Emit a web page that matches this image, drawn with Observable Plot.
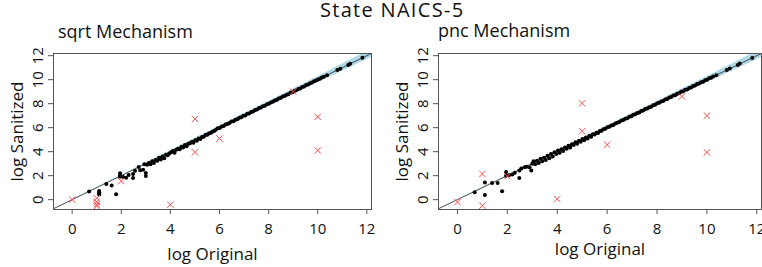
<!DOCTYPE html>
<html><head><meta charset="utf-8">
<script src="https://cdn.jsdelivr.net/npm/d3@7"></script>
<script src="https://cdn.jsdelivr.net/npm/@observablehq/plot@0.6"></script>
<style>
body{margin:0;background:#fff;font-family:"Open Sans",sans-serif;}
#wrap{position:relative;width:762px;height:267px;overflow:hidden;background:#fff;}
.ttl{position:absolute;font-size:20px;line-height:20px;letter-spacing:1.3px;color:#111;white-space:nowrap;}
.sub{position:absolute;font-size:18px;line-height:18px;color:#111;white-space:nowrap;}
.pl{position:absolute;top:40px;}
</style></head>
<body>
<div id="wrap">
  <div class="ttl" id="title" style="left:320px;top:0px;"></div>
  <div class="sub" id="sub0" style="left:58px;top:22px;"></div>
  <div class="sub" id="sub1" style="left:438px;top:21px;"></div>
  <div class="pl" id="p0" style="left:0px;"></div>
  <div class="pl" id="p1" style="left:381px;"></div>
</div>
<script>
const title = "State NAICS-5";
const panelTitles = ["sqrt Mechanism", "pnc Mechanism"];
const xLabel = "log Original";
const yLabel = "log Sanitized";
const xTicks = [0, 2, 4, 6, 8, 10, 12];
const yTicks = [0, 2, 4, 6, 8, 10, 12];

// shared log original values of the main cloud
const midX = [3.05,3.12,3.19,3.26,3.33,3.40,3.47,3.54,3.61,3.68,3.75,3.82,3.89,3.96,4.03,4.10,4.17,4.24,4.31,4.38,
  4.45,4.52,4.59,4.66,4.73,4.80,4.87,4.94,5.01,5.08,5.15,5.22,5.29,5.36,5.43,5.50,5.57,5.64,5.71,5.78,
  5.85,5.93,6.01,6.09,6.17,6.25,6.33,6.41,6.49,6.57,6.65,6.73,6.81,6.89,6.97,7.05,7.13,7.21,7.29,7.37,
  7.45,7.53,7.61,7.69,7.77,7.85,7.93,8.01,8.09,8.17,8.25,8.33,8.41,8.49,8.57,8.65,8.73,8.81,8.89,8.97,
  9.05,9.13,9.21,9.29,9.37,9.45,9.53,9.61,9.69,9.77,9.85,9.93,10.01,10.09,10.17,10.25,
  10.38,10.80,10.92,11.24,11.32,11.82];
const sqrtMidY = [2.90,3.05,2.95,3.20,3.05,3.30,3.25,3.50,3.35,3.60,3.45,3.75,3.70,3.85,3.95,4.05,3.90,4.15,4.25,4.20,
  4.40,4.35,4.55,4.45,4.65,4.70,4.80,4.75,4.95,4.90,5.10,5.05,5.22,5.25,5.38,5.40,5.52,5.55,5.66,5.72,
  5.82,5.95,5.97,6.10,6.13,6.27,6.30,6.39,6.52,6.54,6.66,6.70,6.83,6.86,6.99,7.02,7.15,7.19,7.30,7.35,
  7.47,7.51,7.63,7.67,7.78,7.83,7.95,7.99,8.10,8.15,8.27,8.31,8.42,8.47,8.59,8.63,8.74,8.79,8.91,8.95,
  9.06,9.11,9.23,9.27,9.38,9.44,9.55,9.59,9.70,9.76,9.86,9.92,10.02,10.08,10.18,10.24,
  10.37,10.81,10.91,11.23,11.33,11.82];
const pncMidY = [3.20,2.95,3.25,3.05,3.40,3.20,3.50,3.30,3.65,3.45,3.80,3.60,3.95,3.80,4.10,3.90,4.20,4.05,4.35,4.25,
  4.50,4.35,4.62,4.55,4.78,4.65,4.90,4.82,5.05,4.95,5.18,5.10,5.32,5.25,5.45,5.42,5.58,5.56,5.72,5.74,
  5.86,5.91,6.03,6.07,6.19,6.23,6.35,6.40,6.47,6.59,6.63,6.75,6.79,6.91,6.95,7.07,7.11,7.23,7.27,7.39,
  7.43,7.55,7.59,7.71,7.75,7.87,7.91,8.03,8.07,8.19,8.23,8.35,8.39,8.51,8.55,8.67,8.71,8.83,8.87,8.99,
  9.03,9.15,9.19,9.31,9.35,9.47,9.51,9.63,9.67,9.79,9.83,9.95,9.99,10.11,10.15,10.26,
  10.37,10.81,10.92,11.22,11.34,11.81];

// small counts
const sqrtLowX = [0.69,1.10,1.10,1.10,1.10,1.39,1.61,1.79,1.95,1.95,1.95,2.08,2.20,2.30,2.48,2.48,2.56,2.71,2.77,2.89,3.00,3.00,2.94];
const sqrtLowY = [0.69,0.72,0.62,0.52,0.42,1.30,1.17,0.45,2.20,2.02,1.90,1.88,1.82,2.05,2.14,1.80,2.40,2.72,2.45,2.50,2.22,1.98,2.95];
const pncLowX = [0.69,1.10,1.10,1.39,1.61,1.79,1.95,1.95,2.08,2.20,2.30,2.48,2.48,2.56,2.69,2.77,2.89,2.96,3.00];
const pncLowY = [0.61,1.44,0.39,1.39,1.39,0.70,2.30,2.00,2.05,2.10,2.25,2.43,1.80,2.60,2.70,2.75,2.70,2.43,2.99];

// outliers (red crosses)
const sqrtOutX = [0,1,1,1,1,2,4,5,5,6,9,10,10];
const sqrtOutY = [0.0,0.12,-0.18,-0.40,-0.55,1.55,-0.42,3.95,6.72,5.10,9.00,6.90,4.10];
const pncOutX = [0,1,1,2,4,5,5,6,9,10,10];
const pncOutY = [-0.20,2.14,-0.50,1.95,0.05,8.03,5.70,4.58,8.60,7.00,3.94];

// confidence band around the diagonal
const bandX  = [-0.76, 2, 4, 6, 8, 10, 12.19];
const bandLo = [-0.77, 1.96, 3.92, 5.87, 7.81, 9.75, 11.84];
const bandHi = [-0.75, 2.04, 4.08, 6.13, 8.19, 10.25, 12.54];

const xDomain = [-0.76, 12.19];
const yDomain = [-0.82, 12.18];

document.getElementById("title").textContent = title;
document.getElementById("sub0").textContent = panelTitles[0];
document.getElementById("sub1").textContent = panelTitles[1];

function panel({lowX, lowY, midY, outX, outY, marginLeft, marginRight, xLabDy}) {
  const pts = lowX.map((x, i) => ({x, y: lowY[i]})).concat(midX.map((x, i) => ({x, y: midY[i]})));
  const outs = outX.map((x, i) => ({x, y: outY[i]}));
  const band = bandX.map((x, i) => ({x, lo: bandLo[i], hi: bandHi[i]}));
  return Plot.plot({
    width: 381, height: 227,
    marginTop: 13, marginBottom: 58, marginLeft, marginRight,
    style: {fontFamily: "'Open Sans', sans-serif", color: "#111", background: "transparent"},
    x: {domain: xDomain},
    y: {domain: yDomain},
    marks: [
      Plot.areaY(band, {x: "x", y1: "lo", y2: "hi", fill: "#add8e6", clip: true}),
      Plot.line(bandX, {x: d => d, y: d => d, stroke: "#2a2a2a", strokeWidth: 0.8, clip: true}),
      Plot.dot(pts, {x: "x", y: "y", r: 2, fill: "#000", stroke: "none"}),
      Plot.dot(outs, {x: "x", y: "y", symbol: "times", r: 3, stroke: "#ff4a4a", strokeWidth: 1}),
      Plot.frame({stroke: "#555"}),
      Plot.axisX(xTicks, {tickSize: 5, tickPadding: 9, fontSize: 15, stroke: "#555", label: null}),
      Plot.axisY(yTicks, {tickSize: 5, tickFormat: () => "", stroke: "#555", label: null}),
      Plot.text(yTicks, {y: d => d, text: d => String(d), frameAnchor: "left", dx: -15.5, rotate: -90,
        textAnchor: "middle", lineAnchor: "middle", fontSize: 15, fill: "#111"}),
      Plot.text([yLabel], {text: d => d, frameAnchor: "left", dx: -36, rotate: -90,
        textAnchor: "middle", lineAnchor: "middle", fontSize: 17, fill: "#111"}),
      Plot.text([xLabel], {text: d => d, frameAnchor: "bottom", dy: xLabDy,
        textAnchor: "middle", lineAnchor: "middle", fontSize: 17, fill: "#111"})
    ]
  });
}

document.getElementById("p0").appendChild(panel({lowX: sqrtLowX, lowY: sqrtLowY, midY: sqrtMidY,
  outX: sqrtOutX, outY: sqrtOutY, marginLeft: 53, marginRight: 10, xLabDy: 45}));
document.getElementById("p1").appendChild(panel({lowX: pncLowX, lowY: pncLowY, midY: pncMidY,
  outX: pncOutX, outY: pncOutY, marginLeft: 57, marginRight: 1, xLabDy: 40}));
</script>
</body></html>
